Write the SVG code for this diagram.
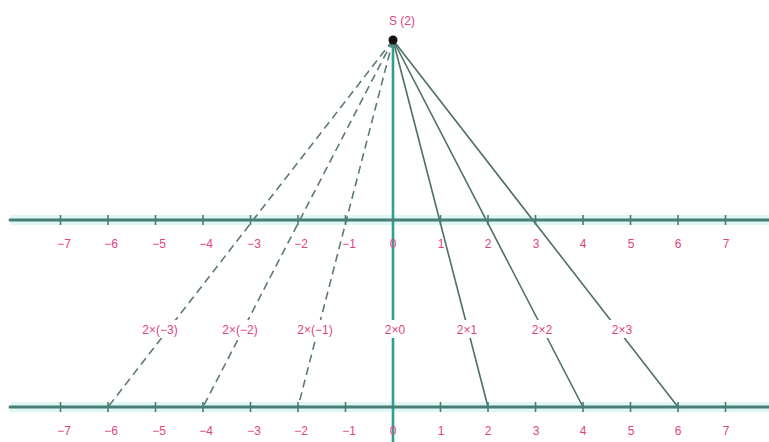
<svg xmlns="http://www.w3.org/2000/svg" width="769" height="442" viewBox="0 0 769 442">
<style>
.glow{stroke:#c9f1ef;stroke-width:10;fill:none;opacity:0.6}
.axis{stroke:#4a7d74;stroke-width:3;fill:none;stroke-linecap:round}
.tick{stroke:#4a7d74;stroke-width:1.6}
.vert{stroke:#2f9f90;stroke-width:2.6;fill:none}
.solid{stroke:#4d6f68;stroke-width:1.6;fill:none}
.dash{stroke:#5c7b72;stroke-width:1.6;fill:none;stroke-dasharray:8 5}
.lbl{font-family:"Liberation Sans","DejaVu Sans",sans-serif;font-size:12px;fill:#e0447f;text-anchor:middle}
.bg{fill:#ffffff}
</style>
<rect width="769" height="442" fill="#ffffff"/>
<g id="connectors">
<line class="glow" x1="10" y1="220" x2="769" y2="220"/>
<line class="glow" x1="10" y1="407" x2="769" y2="407"/>
<line class="dash" x1="393" y1="40" x2="108" y2="407"/>
<line class="dash" x1="393" y1="40" x2="203" y2="407"/>
<line class="dash" x1="393" y1="40" x2="298" y2="407"/>
<line class="solid" x1="393" y1="40" x2="488" y2="407"/>
<line class="solid" x1="393" y1="40" x2="583" y2="407"/>
<line class="solid" x1="393" y1="40" x2="678" y2="407"/>
<line class="vert" x1="393" y1="40" x2="393" y2="442"/>
</g>
<g id="top-axis">
<line class="axis" x1="10" y1="220" x2="769" y2="220"/>
<g class="tick">
<line x1="60.5" y1="215" x2="60.5" y2="225"/><line x1="108" y1="215" x2="108" y2="225"/><line x1="155.5" y1="215" x2="155.5" y2="225"/><line x1="203" y1="215" x2="203" y2="225"/><line x1="250.5" y1="215" x2="250.5" y2="225"/><line x1="298" y1="215" x2="298" y2="225"/><line x1="345.5" y1="215" x2="345.5" y2="225"/><line x1="440.5" y1="215" x2="440.5" y2="225"/><line x1="488" y1="215" x2="488" y2="225"/><line x1="535.5" y1="215" x2="535.5" y2="225"/><line x1="583" y1="215" x2="583" y2="225"/><line x1="630.5" y1="215" x2="630.5" y2="225"/><line x1="678" y1="215" x2="678" y2="225"/><line x1="725.5" y1="215" x2="725.5" y2="225"/>
</g>
<text class="lbl" x="64" y="248">−7</text><text class="lbl" x="111" y="248">−6</text><text class="lbl" x="159" y="248">−5</text><text class="lbl" x="206" y="248">−4</text><text class="lbl" x="254" y="248">−3</text><text class="lbl" x="301" y="248">−2</text><text class="lbl" x="349" y="248">−1</text><text class="lbl" x="393" y="248">0</text><text class="lbl" x="441" y="248">1</text><text class="lbl" x="488" y="248">2</text><text class="lbl" x="536" y="248">3</text><text class="lbl" x="583" y="248">4</text><text class="lbl" x="631" y="248">5</text><text class="lbl" x="678" y="248">6</text><text class="lbl" x="726" y="248">7</text>
</g>
<g id="bottom-axis">
<line class="axis" x1="10" y1="407" x2="769" y2="407"/>
<g class="tick">
<line x1="60.5" y1="402" x2="60.5" y2="412"/><line x1="108" y1="402" x2="108" y2="412"/><line x1="155.5" y1="402" x2="155.5" y2="412"/><line x1="203" y1="402" x2="203" y2="412"/><line x1="250.5" y1="402" x2="250.5" y2="412"/><line x1="298" y1="402" x2="298" y2="412"/><line x1="345.5" y1="402" x2="345.5" y2="412"/><line x1="440.5" y1="402" x2="440.5" y2="412"/><line x1="488" y1="402" x2="488" y2="412"/><line x1="535.5" y1="402" x2="535.5" y2="412"/><line x1="583" y1="402" x2="583" y2="412"/><line x1="630.5" y1="402" x2="630.5" y2="412"/><line x1="678" y1="402" x2="678" y2="412"/><line x1="725.5" y1="402" x2="725.5" y2="412"/>
</g>
<text class="lbl" x="64" y="435">−7</text><text class="lbl" x="111" y="435">−6</text><text class="lbl" x="159" y="435">−5</text><text class="lbl" x="206" y="435">−4</text><text class="lbl" x="254" y="435">−3</text><text class="lbl" x="301" y="435">−2</text><text class="lbl" x="349" y="435">−1</text><text class="lbl" x="393" y="435">0</text><text class="lbl" x="441" y="435">1</text><text class="lbl" x="488" y="435">2</text><text class="lbl" x="536" y="435">3</text><text class="lbl" x="583" y="435">4</text><text class="lbl" x="631" y="435">5</text><text class="lbl" x="678" y="435">6</text><text class="lbl" x="726" y="435">7</text>
</g>
<g id="products">
<rect class="bg" x="139" y="320" width="42" height="18"/>
<rect class="bg" x="219" y="320" width="42" height="18"/>
<rect class="bg" x="294" y="320" width="42" height="18"/>
<rect class="bg" x="381" y="320" width="28" height="18"/>
<rect class="bg" x="453" y="320" width="28" height="18"/>
<rect class="bg" x="528" y="320" width="28" height="18"/>
<rect class="bg" x="608" y="320" width="28" height="18"/>
<text class="lbl" x="160" y="334">2×(−3)</text>
<text class="lbl" x="240" y="334">2×(−2)</text>
<text class="lbl" x="315" y="334">2×(−1)</text>
<text class="lbl" x="395" y="334">2×0</text>
<text class="lbl" x="467" y="334">2×1</text>
<text class="lbl" x="542" y="334">2×2</text>
<text class="lbl" x="622" y="334">2×3</text>
</g>
<g id="S">
<circle cx="393" cy="40" r="4.5" fill="#111"/>
<text class="lbl" x="402" y="25">S (2)</text>
</g>
</svg>
